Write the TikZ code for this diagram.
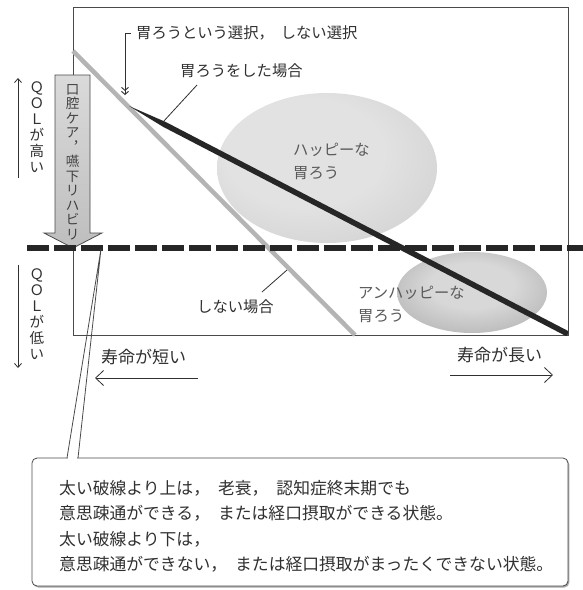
\documentclass[tikz,border=0pt]{standalone}
\usepackage{fontspec}
\newfontfamily\jpfont{Noto Sans CJK JP}
\usetikzlibrary{arrows.meta,calc}
\definecolor{txt}{HTML}{303030}
\definecolor{linec}{HTML}{4A4A4A}
\definecolor{grayline}{HTML}{B4B4B4}
\definecolor{darkline}{HTML}{262626}
\definecolor{hapin}{HTML}{E2E2E2}
\definecolor{hapout}{HTML}{C2C2C2}
\definecolor{unin}{HTML}{D8D8D8}
\definecolor{unout}{HTML}{929292}
\definecolor{arrtop}{HTML}{DADADA}
\definecolor{arrbot}{HTML}{BEBEBE}
\pgfdeclareradialshading{happyshade}{\pgfpoint{-8bp}{8bp}}{color(0bp)=(hapin); color(18bp)=(hapin); color(50bp)=(hapout)}
\pgfdeclareradialshading{unhappyshade}{\pgfpoint{0bp}{6bp}}{color(0bp)=(unin); color(14bp)=(unin); color(50bp)=(unout)}
\begin{document}
\begin{tikzpicture}[x=1pt,y=-1pt,
  frame/.style={draw=linec, line width=0.8pt},
  lbl/.style={font=\jpfont\fontsize{15.3}{18}\selectfont, text=txt, inner sep=0pt, anchor=base west},
  ellbl/.style={font=\jpfont\fontsize{15.3}{18}\selectfont, text=black!65, inner sep=0pt, anchor=base west},
  lifelbl/.style={font=\jpfont\fontsize{17}{20}\selectfont, text=txt, inner sep=0pt, anchor=base west},
  calltxt/.style={font=\jpfont\fontsize{16.8}{20}\selectfont, text=txt, inner sep=0pt, anchor=base west},
  vtext/.style={font=\jpfont\fontsize{14.5}{16}\selectfont, text=txt, inner sep=0pt, align=center},
  arrtext/.style={font=\jpfont\fontsize{13.5}{14.5}\selectfont, text=black!75, inner sep=0pt, align=center},
  thinarrow/.style={draw=txt, line width=0.8pt},
  lifearrow/.style={draw=txt, line width=0.8pt, -{Straight Barb[length=8pt,width=15pt]}},
  qolarrow/.style={draw=txt, line width=0.8pt, -{Straight Barb[length=4pt,width=7pt]}}
]
\useasboundingbox (0,0) rectangle (583,590);
\fill[white] (0,0) rectangle (583,590);

% coordinates
\coordinate (boxTL) at (73,7);
\coordinate (boxBR) at (568,335);
\coordinate (g1) at (73,51);
\coordinate (g2) at (355,335);
\coordinate (dA) at (129,106);
\coordinate (dB) at (568,334);
\coordinate (dC) at ($(dA)!40pt!(dB)$);
\coordinate (d1) at (27,248);
\coordinate (d2) at (583,248);

% plot frame
\draw[frame] (boxTL) rectangle (boxBR);

% ellipses
\shade[shading=happyshade] (327,168) ellipse [x radius=110pt, y radius=75pt];
\shade[shading=unhappyshade] (472,292.5) ellipse [x radius=75pt, y radius=40.5pt];

% gray line (without gastrostomy)
\draw[grayline, line width=4.5pt] (g1) -- (g2);

% dark tapered line (with gastrostomy)
\begin{scope}
\clip (boxTL) rectangle (boxBR);
\fill[darkline] (dA) -- ($(dC)!2.75pt!90:(dB)$) -- ($(dB)!2.75pt!-90:(dA)$)
  -- ($(dB)!2.75pt!90:(dA)$) -- ($(dC)!2.75pt!-90:(dB)$) -- cycle;
\end{scope}

% big gray arrow
\coordinate (a1) at (55,75);
\coordinate (a2) at (90,75);
\coordinate (a3) at (90,233);
\coordinate (a4) at (102,233);
\coordinate (a5) at (73,248);
\coordinate (a6) at (44,233);
\coordinate (a7) at (55,233);
\shade[top color=arrtop, bottom color=arrbot, draw=linec, line width=0.8pt, line join=miter]
  (a1) -- (a2) -- (a3) -- (a4) -- (a5) -- (a6) -- (a7) -- cycle;
\node[arrtext] (care) at (72.5,162) {口\\腔\\ケ\\ア\\︐\\嚥\\下\\リ\\ハ\\ビ\\リ};

% thick dashed threshold line
\draw[draw=darkline, line width=5.5pt, dash pattern=on 22pt off 5pt] (d1) -- (d2);

% choice bracket
\coordinate (brk) at (131,33);
\coordinate (brc) at (125,33);
\coordinate (brt) at (125,95);
\draw[draw=txt, line width=0.9pt, -{Straight Barb[length=3pt,width=7pt] Straight Barb[length=3pt,width=7pt]}] (brk) -- (brc) -- (brt);
\node[lbl] (choice) at (136,38.9) {胃ろうという選択，\hspace{7pt}しない選択};

% labels with leaders
\node[lbl] (withpeg) at (180,76.7) {胃ろうをした場合};
\coordinate (w1) at (197,85);
\coordinate (w2) at (163,122);
\draw[thinarrow] (w1) -- (w2);
\node[lbl] (nopeg) at (197,312.8) {しない場合};
\coordinate (n1) at (262,292);
\coordinate (n2) at (287,270);
\draw[thinarrow] (n1) -- (n2);

% ellipse labels
\node[ellbl] (hap1) at (293,155.8) {ハッピーな};
\node[ellbl] (hap2) at (293,178.8) {胃ろう};
\node[ellbl] (unh1) at (358,298.5) {アンハッピーな};
\node[ellbl] (unh2) at (358,321) {胃ろう};

% QOL axis
\node[vtext] (qolhi) at (37,127.5) {Ｑ\\Ｏ\\Ｌ\\が\\高\\い};
\node[vtext] (qollo) at (37,314) {Ｑ\\Ｏ\\Ｌ\\が\\低\\い};
\coordinate (qh1) at (18,178);
\coordinate (qh2) at (18,78);
\coordinate (ql1) at (18,265);
\coordinate (ql2) at (18,368);
\draw[qolarrow] (qh1) -- (qh2);
\draw[qolarrow] (ql1) -- (ql2);

% lifespan axis
\node[lifelbl] (short) at (101,363.5) {寿命が短い};
\node[lifelbl] (long) at (457,361.5) {寿命が長い};
\coordinate (s1) at (198,378);
\coordinate (s2) at (95,378);
\coordinate (l1) at (450,375);
\coordinate (l2) at (553,375);
\draw[lifearrow] (s1) -- (s2);
\draw[lifearrow] (l1) -- (l2);

% callout
\coordinate (cTL) at (32,458);
\coordinate (cBR) at (568,586);
\fill[black!35, rounded corners=5pt] ($(cTL)+(1.3,1.5)$) rectangle ($(cBR)+(1.3,1.5)$);
\filldraw[fill=white, draw=linec, line width=0.8pt, rounded corners=5pt] (cTL) rectangle (cBR);
\coordinate (p1) at (67,458);
\coordinate (p2) at (78,458);
\coordinate (ptip) at (101,249);
\fill[white] (67.6,456.5) rectangle (77.4,459.5);
\draw[frame, line join=round] (p1) -- (ptip) -- (p2);
\node[calltxt] (c1) at (59,494.4) {太い破線より上は，\hspace{8pt}老衰，\hspace{8pt}認知症終末期でも};
\node[calltxt] (c2) at (59,519.4) {意思疎通ができる，\hspace{8pt}または経口摂取ができる状態。};
\node[calltxt] (c3) at (59,545.4) {太い破線より下は，};
\node[calltxt] (c4) at (59,570.4) {意思疎通ができない，\hspace{8pt}または経口摂取がまったくできない状態。};
\end{tikzpicture}
\end{document}
